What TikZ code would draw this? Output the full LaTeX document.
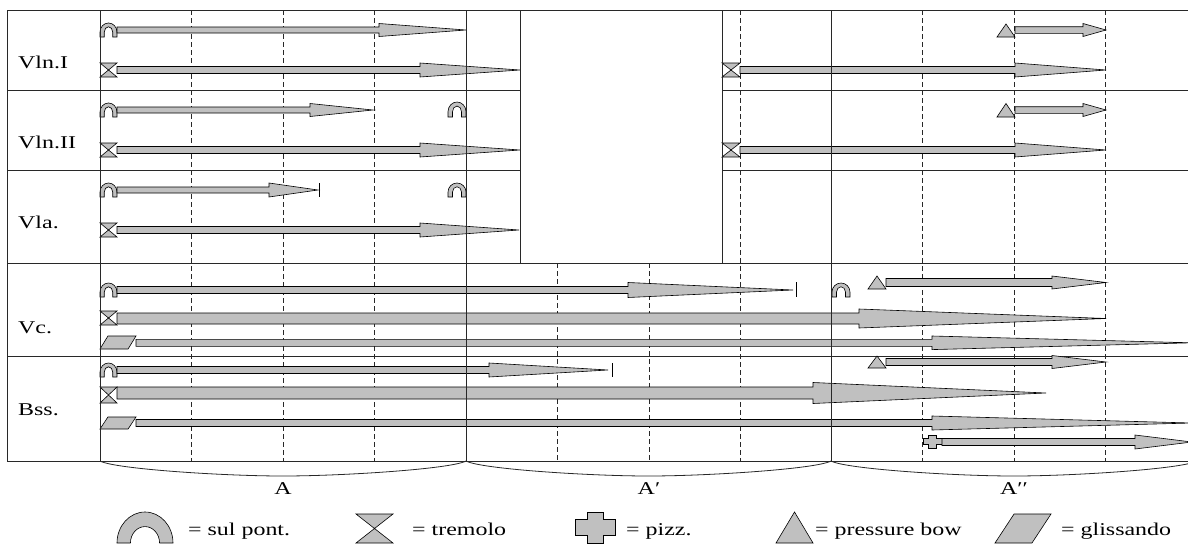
\documentclass[tikz,border=0pt]{standalone}
\usepackage{fontspec}
\setmainfont[FakeStretch=1.33]{Liberation Serif}
\definecolor{symgray}{RGB}{192,192,192}
\definecolor{linegray}{RGB}{40,40,40}
\tikzset{
  gridline/.style={draw=linegray, line width=0.8pt},
  dgridline/.style={draw=linegray, line width=0.8pt, dash pattern=on 5pt off 3pt},
  symbol/.style={fill=symgray, draw=black, line width=0.6pt, line join=miter},
  arrowbody/.style={fill=symgray, draw=black, line width=0.6pt, line join=miter},
  lbl/.style={font=\fontsize{18}{20}\selectfont, inner sep=0pt, anchor=base west},
  seclbl/.style={font=\fontsize{18}{20}\selectfont, inner sep=0pt, anchor=base},
}
% start, head start, tip, centre y, bar half height, head half height
\newcommand\barrow[6]{%
  \filldraw[arrowbody] ({#1},{#4-#5}) -- ({#2},{#4-#5}) -- ({#2},{#4-#6}) -- ({#3},{#4})
    -- ({#2},{#4+#6}) -- ({#2},{#4+#5}) -- ({#1},{#4+#5}) -- cycle;}
% symbols: x0, y0 (top left), width, height
\newcommand\symsul[4]{\begin{scope}[shift={(#1,#2)},xscale=#3,yscale=#4]
  \filldraw[symbol] (0,1) -- (0,0.65) .. controls (0,0.291) and (0.224,0) .. (0.5,0)
    .. controls (0.776,0) and (1,0.291) .. (1,0.65) -- (1,1) -- (0.75,1) -- (0.75,0.65)
    .. controls (0.75,0.44) and (0.638,0.27) .. (0.5,0.27)
    .. controls (0.362,0.27) and (0.25,0.44) .. (0.25,0.65) -- (0.25,1) -- cycle;
  \end{scope}}
\newcommand\symsulbig[4]{\begin{scope}[shift={(#1,#2)},xscale=#3,yscale=#4]
  \filldraw[symbol] (0,1) .. controls (0,0.448) and (0.224,0) .. (0.5,0)
    .. controls (0.776,0) and (1,0.448) .. (1,1) -- (0.76,1)
    .. controls (0.76,0.71) and (0.644,0.47) .. (0.5,0.47)
    .. controls (0.356,0.47) and (0.24,0.71) .. (0.24,1) -- cycle;
  \end{scope}}
\newcommand\symtrem[4]{\begin{scope}[shift={(#1,#2)},xscale=#3,yscale=#4]
  \fill[symgray] (0,0) -- (1,0) -- (0.5,0.5) -- cycle (0,1) -- (1,1) -- (0.5,0.5) -- cycle;
  \draw[black, line width=0.6pt] (0,0) -- (1,0) -- (0,1) -- (1,1) -- cycle;
  \end{scope}}
\newcommand\sympizz[4]{\begin{scope}[shift={(#1,#2)},xscale=#3,yscale=#4]
  \filldraw[symbol] (0.3,0) -- (0.7,0) -- (0.7,0.25) -- (1,0.25) -- (1,0.75) -- (0.7,0.75)
    -- (0.7,1) -- (0.3,1) -- (0.3,0.75) -- (0,0.75) -- (0,0.25) -- (0.3,0.25) -- cycle;
  \end{scope}}
\newcommand\sympress[4]{\begin{scope}[shift={(#1,#2)},xscale=#3,yscale=#4]
  \filldraw[symbol] (0,1) -- (0.5,0) -- (1,1) -- cycle;
  \end{scope}}
\newcommand\symgliss[5]{\begin{scope}[shift={(#1,#2)},xscale=#3,yscale=#4]
  \filldraw[symbol] (0,1) -- (#5,0) -- (1,0) -- ({1-#5},1) -- cycle;
  \end{scope}}
\begin{document}
\begin{tikzpicture}[x=1pt,y=-1pt]
\useasboundingbox (0,0) rectangle (1188,546);
\clip (0,0) rectangle (1188,546);
% dashed lines
\foreach \x in {191.5,283,374.5,740.5,922.5,1014,1105.5}
  \draw[dgridline] (\x,10) -- (\x,461);
\foreach \x in {557.5,649}
  \draw[dgridline] (\x,263) -- (\x,461);
% horizontal lines
\draw[gridline] (7,10) -- (1188,10);
\draw[gridline] (7,90) -- (520,90) (722,90) -- (1188,90);
\draw[gridline] (7,170) -- (520,170) (722,170) -- (1188,170);
\draw[gridline] (7,263) -- (1188,263);
\draw[gridline] (7,356) -- (1188,356);
\draw[gridline] (7,461) -- (1188,461);

% Vln.I
\symsul{100}{23}{17}{14}  \barrow{117}{379}{466}{30}{3}{6.5}
\symtrem{100}{63}{17}{14} \barrow{117}{420}{520}{70}{3.5}{7}
\symtrem{722}{63}{18}{14} \barrow{740}{1015}{1106}{70}{3.5}{7}
\sympress{997}{24}{18}{13} \barrow{1015}{1083}{1106}{30}{3.3}{6.5}
% Vln.II
\symsul{100}{103}{17}{14} \barrow{117}{310}{373}{110}{3}{6.5}
\symsul{448}{102}{18}{15}
\symtrem{100}{143}{17}{14} \barrow{117}{420}{520}{150}{3.5}{7}
\symtrem{722}{143}{18}{14} \barrow{740}{1015}{1106}{150}{3.5}{7}
\sympress{997}{103.5}{18}{13.5} \barrow{1015}{1083}{1106}{110}{3.3}{6.5}
% Vla.
\symsul{100}{183}{17}{14} \barrow{117}{269}{318}{190}{3}{7}
\draw[black, line width=0.8pt] (319,183) -- (319,197);
\symsul{448}{183}{18}{14}
\symtrem{100}{223}{17}{14} \barrow{117}{420}{519}{230}{3.5}{7}
% Vc.
\symsul{100}{283}{17}{14} \barrow{117}{628}{793}{290}{3.5}{7.5}
\draw[black, line width=0.8pt] (796,282) -- (796,297);
\symsul{832}{283}{18}{14}
\sympress{868}{276}{18}{13} \barrow{886}{1052}{1106}{282.5}{4}{6.5}
\symtrem{100}{311}{17}{14} \barrow{117}{859}{1106}{318.5}{5.5}{9.5}
\symgliss{100}{336}{36}{13}{0.22} \barrow{136}{932}{1192}{342.8}{3.5}{6.8}
% Bss.
\symsul{100}{363}{17}{14} \barrow{117}{489}{608}{370}{3.5}{7}
\draw[black, line width=0.8pt] (612,363) -- (612,377);
\sympress{868}{356}{18}{12} \barrow{886}{1052}{1106}{362}{3.5}{6.5}
\symtrem{100}{387}{17}{16} \barrow{117}{813}{1046}{393}{6}{10.5}
\symgliss{100}{417}{36}{12}{0.22} \barrow{136}{932}{1192}{423}{3.5}{7}
\sympizz{923}{435}{19}{13} \barrow{942}{1135}{1192}{442}{3.5}{7}

% vertical solid lines
\draw[gridline] (7,10) -- (7,461);
\draw[gridline] (100,10) -- (100,461);
\draw[gridline] (466,10) -- (466,461);
\draw[gridline] (520,10) -- (520,263);
\draw[gridline] (722,10) -- (722,263);
\draw[gridline] (831,10) -- (831,461);

% row labels
\node[lbl] (vln1) at (18,68) {Vln.I};
\node[lbl] (vln2) at (18,148) {Vln.II};
\node[lbl] (vla) at (18,228) {Vla.};
\node[lbl] (vc) at (18,333) {Vc.};
\node[lbl] (bss) at (18,415) {Bss.};

% braces
\foreach \xa/\xb in {100/466,466/831,831/1197}{
  \pgfmathsetmacro\xm{(\xa+\xb)/2}
  \draw[gridline] (\xa,461) .. controls (\xa+15,469) and (\xm-60,476) .. (\xm,476)
    .. controls (\xm+60,476) and (\xb-15,469) .. (\xb,461);
}
\node[seclbl] (secA) at (283,494) {A};
\node[seclbl] (secB) at (649,494) {A′};
\node[seclbl] (secC) at (1014,494) {A′′};

% legend
\symsulbig{117}{512}{56}{31}
\node[lbl] (lsul) at (188,535) {= sul pont.};
\symtrem{356}{514}{37}{29}
\node[lbl] (ltrem) at (412,535) {= tremolo};
\sympizz{575}{512}{40}{31}
\node[lbl] (lpizz) at (626,535) {= pizz.};
\sympress{776}{512}{37}{31}
\node[lbl] (lpress) at (815,535) {= pressure bow};
\symgliss{995}{514}{56}{29}{0.34}
\node[lbl] (lgliss) at (1061,535) {= glissando};
\end{tikzpicture}
\end{document}
